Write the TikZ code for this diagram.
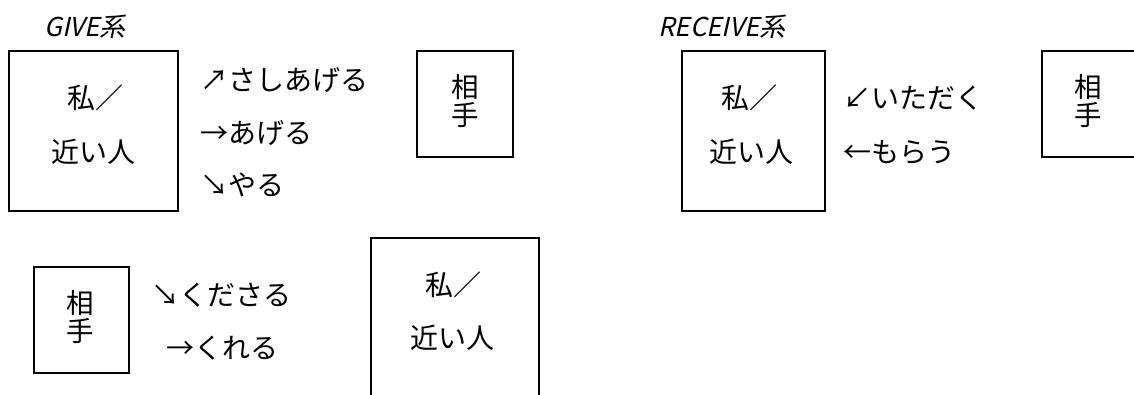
\documentclass[tikz,border=0pt]{standalone}
\usepackage{fontspec}
\setmainfont{Noto Sans CJK JP}
\newfontfamily\cjkit[FakeSlant=0.22]{Noto Sans CJK JP}
\begin{document}
\begin{tikzpicture}[x=1pt,y=-1pt,
  boxline/.style={draw=black,line width=1.4pt},
  txt/.style={inner sep=0pt,font=\fontsize{28}{29}\selectfont},
  lbl/.style={txt,anchor=west},
  head/.style={inner sep=0pt,font=\cjkit\fontsize{26}{28}\selectfont},
  stack/.style={txt,align=center,font=\fontsize{27.5}{28}\selectfont}]
\clip (0,0) rectangle (1134,394);
\fill[white] (0,0) rectangle (1134,394);
% GIVE
\node[head] (give) at (85,27) {GIVE系};
\draw[boxline] (9,51) rectangle (178,211);
\node[txt] (meA1) at (95,98) {私／};
\node[txt] (meA2) at (93,152) {近い人};
\node[lbl] (sashiageru) at (200,80) {↗さしあげる};
\node[lbl] (ageru) at (200,133) {→あげる};
\node[lbl] (yaru) at (200,185) {↘やる};
\draw[boxline] (417,51) rectangle (513,157);
\node[stack] (aiteB) at (465,101) {相\\手};
% RECEIVE
\node[head] (receive) at (722,27) {RECEIVE系};
\draw[boxline] (682,51) rectangle (825,211);
\node[txt] (meC1) at (749,98) {私／};
\node[txt] (meC2) at (751,152) {近い人};
\node[lbl] (itadaku) at (843,98) {↙いただく};
\node[lbl] (morau) at (843,152) {←もらう};
\draw[boxline] (1042,51) rectangle (1170,157);
\node[stack] (aiteD) at (1088,101) {相\\手};
% bottom
\draw[boxline] (34,267) rectangle (129,373);
\node[stack] (aiteE) at (80,317) {相\\手};
\node[lbl] (kudasaru) at (151,295) {↘くださる};
\node[lbl] (kureru) at (166,348) {→くれる};
\draw[boxline] (371,238) rectangle (539,420);
\node[txt] (meF1) at (453,285) {私／};
\node[txt] (meF2) at (452,338) {近い人};
\end{tikzpicture}
\end{document}
